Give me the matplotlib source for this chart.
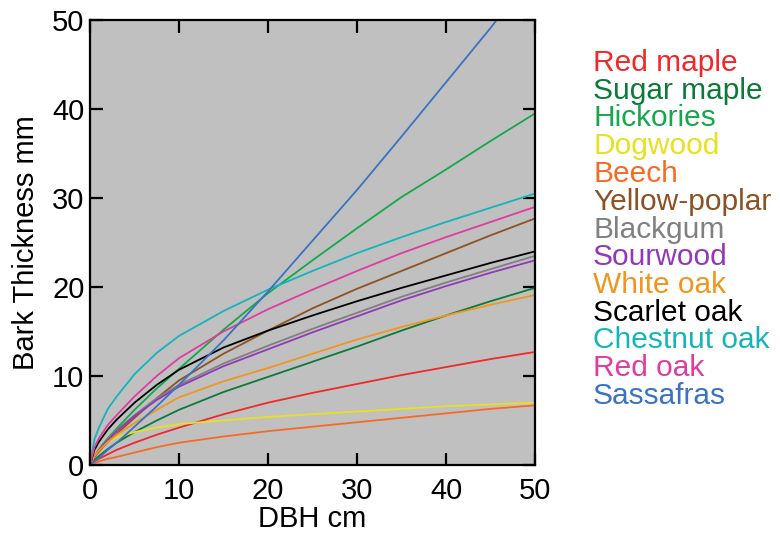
import matplotlib
matplotlib.use("Agg")
import matplotlib.pyplot as plt

plt.rcParams['font.family'] = ['Liberation Sans', 'DejaVu Sans']

dbh = [0, 0.5, 1, 2, 3, 5, 7.5, 10, 15, 20, 25, 30, 35, 40, 45, 50]

species = ['Red maple', 'Sugar maple', 'Hickories', 'Dogwood', 'Beech',
           'Yellow-poplar', 'Blackgum', 'Sourwood', 'White oak',
           'Scarlet oak', 'Chestnut oak', 'Red oak', 'Sassafras']

red_maple     = [0, 0.4, 0.7, 1.2, 1.7, 2.5, 3.4, 4.2, 5.7, 7.0, 8.1, 9.1, 10.1, 11.0, 11.9, 12.7]
sugar_maple   = [0, 0.6, 1.0, 1.8, 2.5, 3.7, 5.0, 6.2, 8.2, 9.9, 11.6, 13.3, 15.1, 16.8, 18.4, 19.9]
hickories     = [0, 1.1, 1.8, 3.0, 4.1, 6.2, 8.6, 10.8, 15.2, 19.3, 23.0, 26.6, 30.1, 33.2, 36.4, 39.5]
dogwood       = [0, 1.2, 1.8, 2.6, 3.1, 3.7, 4.2, 4.6, 5.0, 5.4, 5.7, 6.0, 6.3, 6.6, 6.8, 7.0]
beech         = [0, 0.2, 0.4, 0.7, 0.9, 1.4, 2.0, 2.5, 3.2, 3.8, 4.3, 4.8, 5.3, 5.8, 6.3, 6.7]
yellow_poplar = [0, 0.9, 1.5, 2.6, 3.5, 5.3, 7.5, 9.5, 12.5, 15.1, 17.6, 19.8, 21.8, 23.8, 25.8, 27.7]
blackgum      = [0, 1.0, 1.7, 2.9, 3.9, 5.6, 7.5, 9.0, 11.4, 13.4, 15.3, 17.1, 18.9, 20.5, 22.0, 23.5]
sourwood      = [0, 1.0, 1.7, 2.8, 3.8, 5.5, 7.3, 8.8, 11.1, 13.0, 14.9, 16.7, 18.5, 20.1, 21.6, 23.0]
white_oak     = [0, 1.0, 1.6, 2.6, 3.4, 4.7, 6.2, 7.6, 9.4, 10.9, 12.5, 14.1, 15.5, 16.8, 18.0, 19.1]
scarlet_oak   = [0, 1.7, 2.6, 4.0, 5.1, 7.0, 9.0, 10.7, 13.2, 15.1, 16.8, 18.4, 19.9, 21.3, 22.7, 24.0]
chestnut_oak  = [0, 2.9, 4.2, 6.3, 7.7, 10.2, 12.6, 14.5, 17.3, 19.7, 21.8, 23.8, 25.6, 27.3, 28.9, 30.5]
red_oak       = [0, 2.0, 3.0, 4.5, 5.6, 7.7, 10.0, 12.0, 15.0, 17.5, 19.7, 21.8, 23.8, 25.6, 27.3, 29.0]
sassafras     = [0, 0.4, 0.8, 1.7, 2.5, 4.3, 6.6, 9.0, 14.0, 19.5, 25.2, 30.9, 36.9, 43.0, 49.1, 55.5]

bark = [red_maple, sugar_maple, hickories, dogwood, beech, yellow_poplar,
        blackgum, sourwood, white_oak, scarlet_oak, chestnut_oak, red_oak,
        sassafras]

colors = ['#f02828', '#0a7a3a', '#14a84a', '#e8e020', '#f86a24', '#8c5224',
          '#808080', '#9238b8', '#f0961e', '#000000', '#14b4bc', '#e03ca0',
          '#3a72c4']

fig = plt.figure(figsize=(7.8, 5.36), dpi=100)
ax = fig.add_axes([0.1154, 0.1325, 0.5705, 0.8302])
ax.set_facecolor('#c0c0c0')

for name, vals, c in zip(species, bark, colors):
    ax.plot(dbh, vals, color=c, lw=1.3)

ax.set_xlim(0, 50)
ax.set_ylim(0, 50)
ax.set_xticks([0, 10, 20, 30, 40, 50])
ax.set_yticks([0, 10, 20, 30, 40, 50])
ax.tick_params(direction='in', length=9, width=1.6, top=True, right=True,
               labelsize=21)
ax.tick_params(axis='x', pad=9)
ax.tick_params(axis='y', pad=4)
for s in ax.spines.values():
    s.set_linewidth(1.6)

ax.set_xlabel('DBH cm', fontsize=21, labelpad=0)
ax.set_ylabel('Bark Thickness mm', fontsize=21, labelpad=9)

# coloured names as legend on the right
for i, (name, c) in enumerate(zip(species, colors)):
    fig.text(593 / 780, 1 - (71 + 27.75 * i) / 536, name, color=c,
             fontsize=21.5, va='baseline', ha='left')

plt.savefig('out.png', dpi=100)
